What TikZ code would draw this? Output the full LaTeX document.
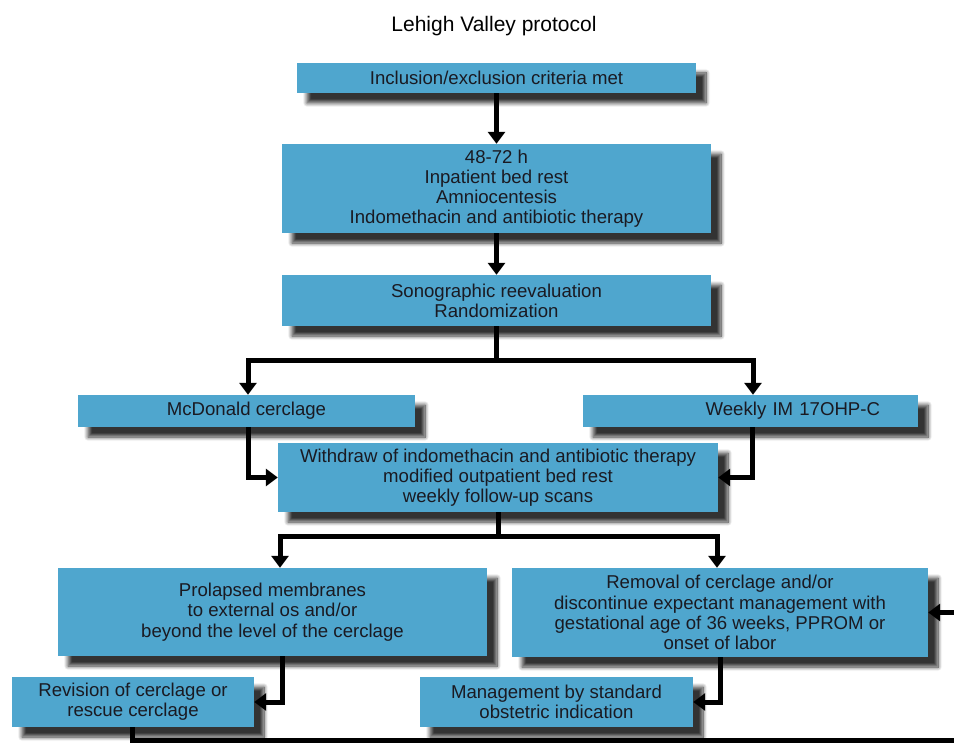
\documentclass[tikz,border=0pt]{standalone}
\usepackage{fontspec}
\setmainfont{Liberation Sans}
\usetikzlibrary{arrows.meta,calc,shadows.blur}
\definecolor{boxblue}{HTML}{4FA6CE}
\definecolor{txtdark}{HTML}{1A1A22}
\begin{document}
\begin{tikzpicture}[x=1pt,y=-1pt,
  box/.style={rectangle, fill=boxblue, inner sep=0pt, align=center, text=txtdark,
    font=\fontsize{18.6}{20.2}\selectfont,
    blur shadow={shadow xshift=10pt, shadow yshift=-10pt, shadow blur steps=10, shadow blur radius=4pt, shadow opacity=80}},
  conn/.style={line width=5pt, black},
  arr/.style={conn, -{Triangle[length=12pt,width=17pt]}}]
\useasboundingbox (0,0) rectangle (954,743);
\node[font=\fontsize{21}{24}\selectfont] (title) at (494,26) {Lehigh Valley protocol};
\node[box, minimum width=399, minimum height=30] (b1) at (496.5,78) {Inclusion/exclusion criteria met};
\node[box, minimum width=429, minimum height=89] (b2) at (496.5,188.5) {48-72 h\\Inpatient bed rest\\Amniocentesis\\Indomethacin and antibiotic therapy};
\node[box, minimum width=429, minimum height=51] (b3) at (496.5,300.5) {Sonographic reevaluation\\Randomization};
\node[box, minimum width=337, minimum height=32] (mc) at (246.5,411) {McDonald cerclage};
\node[box, minimum width=335, minimum height=32, text width=259, align=right, inner xsep=38] (wk) at (750.5,411) {Weekly IM 17OHP-C};
\node[box, minimum width=440, minimum height=69] (wd) at (498,477.5) {Withdraw of indomethacin and antibiotic therapy\\modified outpatient bed rest\\weekly follow-up scans};
\node[box, minimum width=429, minimum height=88] (pr) at (272.5,612) {Prolapsed membranes\\to external os and/or\\beyond the level of the cerclage};
\node[box, minimum width=416, minimum height=89] (rm) at (720,612.5) {Removal of cerclage and/or\\discontinue expectant management with\\gestational age of 36 weeks, PPROM or\\onset of labor};
\node[box, minimum width=242, minimum height=50] (rv) at (133,702) {Revision of cerclage or\\rescue cerclage};
\node[box, minimum width=273, minimum height=50] (mg) at (556.5,702) {Management by standard\\obstetric indication};
% connectors
\coordinate (j1) at (496.5,361);
\coordinate (j2) at (498,536);
\coordinate (c1) at (970,740);
\draw[arr] (b1.south) -- (b2.north);
\draw[arr] (b2.south) -- (b3.north);
\draw[conn] (b3.south) -- (j1);
\draw[arr] (j1) -| ($(mc.north)+(1.5,0)$);
\draw[arr] (j1) -| ($(wk.north)+(2.5,0)$);
\draw[arr] ($(mc.south)+(1.5,0)$) |- (wd.west);
\draw[arr] ($(wk.south)+(1.5,0)$) |- (wd.east);
\draw[conn] (wd.south) -- (j2);
\draw[arr] (j2) -| ($(pr.north)+(7.5,0)$);
\draw[arr] (j2) -| ($(rm.north)+(-3,0)$);
\draw[arr] ($(pr.south)+(9.5,0)$) |- (rv.east);
\draw[arr] (rm.south) |- (mg.east);
\draw[arr] ($(rv.south)+(-1,0)$) |- (c1) |- (rm.east);
\end{tikzpicture}
\end{document}
